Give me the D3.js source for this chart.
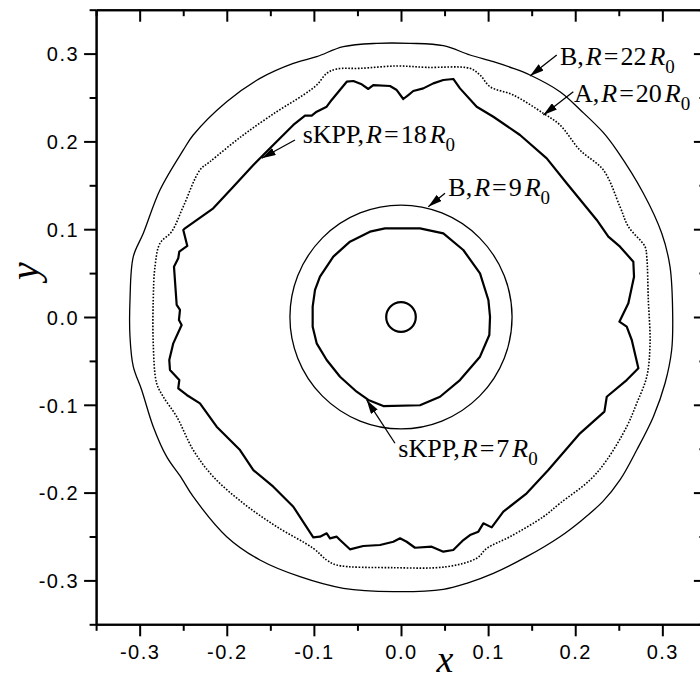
<!DOCTYPE html>
<html>
<head>
<meta charset="utf-8">
<script src="https://d3js.org/d3.v7.min.js"></script>
<style>
  body { margin: 0; background: #fff; }
  svg { display: block; }
</style>
</head>
<body>
<div id="chart"></div>
<script>
var w = 700, h = 681;

// fronts, clockwise, in data units
var outerB22 = [[-0.2385,0.2073],[-0.2001,0.2452],[-0.1619,0.2718],[-0.1236,0.2889],[-0.0968,0.2965],[-0.0662,0.3079],
  [-0.0279,0.3117],[0.0103,0.3117],[0.0486,0.309],[0.0792,0.2984],[0.106,0.2908],[0.1289,0.2832],[0.148,0.2756],
  [0.1825,0.2566],[0.2062,0.2355],[0.2318,0.2105],[0.2476,0.19],[0.2782,0.1409],[0.2993,0.0953],[0.3088,0.0573],
  [0.3119,0.0003],[0.3107,-0.0376],[0.3031,-0.0755],[0.2897,-0.1135],[0.2706,-0.1515],[0.2514,-0.1856],[0.2318,-0.21],
  [0.2062,-0.2325],[0.1825,-0.2502],[0.1443,-0.273],[0.106,-0.292],[0.0754,-0.3033],[0.0486,-0.3102],[-0.0088,-0.3128],
  [-0.0662,-0.309],[-0.116,-0.2958],[-0.1619,-0.2768],[-0.2001,-0.2502],[-0.2385,-0.2047],[-0.2518,-0.1837],
  [-0.269,-0.1591],[-0.2844,-0.1249],[-0.2977,-0.0831],[-0.3073,-0.0566],[-0.3111,-0.0224],[-0.3111,0.0194],
  [-0.3073,0.0687],[-0.2958,0.0953],[-0.2767,0.1446],[-0.25,0.19]];

var frontA20 = [[-0.2308,0.1674],[-0.2193,0.1769],[-0.181,0.2073],[-0.1427,0.2338],[-0.1122,0.2528],[-0.0968,0.2642],
  [-0.0853,0.2775],[-0.0738,0.2825],[-0.0471,0.2832],[-0.0049,0.2859],[0.0295,0.2843],[0.0792,0.2832],[0.0907,0.2756],
  [0.1022,0.2623],[0.1289,0.2528],[0.1634,0.232],[0.1825,0.2187],[0.2055,0.19],[0.2323,0.1674],[0.2514,0.1256],
  [0.261,0.1029],[0.2801,0.0801],[0.2821,0.0687],[0.2839,0.0194],[0.2859,-0.03],[0.2821,-0.068],[0.2706,-0.0983],
  [0.2591,-0.1249],[0.2362,-0.1629],[0.217,-0.1856],[0.1825,-0.2122],[0.1634,-0.2275],[0.1251,-0.2502],[0.0984,-0.2635],
  [0.0869,-0.2748],[0.0525,-0.2844],[-0.0088,-0.2855],[-0.0738,-0.2825],[-0.0853,-0.2768],[-0.1007,-0.2635],
  [-0.1427,-0.2388],[-0.181,-0.2122],[-0.2155,-0.1819],[-0.2385,-0.1515],[-0.2575,-0.1135],[-0.2729,-0.0908],
  [-0.2805,-0.0755],[-0.2844,-0.03],[-0.2844,0.0194],[-0.2824,0.0573],[-0.2767,0.0839],[-0.2633,0.0972],[-0.25,0.1256]];

var sKPP18 = [[-0.1695,0.1731],[-0.1504,0.1921],[-0.1236,0.2187],[-0.1102,0.2293],[-0.1025,0.2293],[-0.0968,0.2338],
  [-0.0853,0.2395],[-0.0796,0.2472],[-0.0623,0.268],[-0.0547,0.2688],[-0.0451,0.265],[-0.0375,0.2597],[-0.0318,0.2642],
  [-0.0126,0.2631],[-0.0049,0.2585],[0.0026,0.2483],[0.0084,0.2528],[0.0141,0.2574],[0.0256,0.2604],[0.0371,0.2661],
  [0.0486,0.2699],[0.06,0.2711],[0.0677,0.2604],[0.0869,0.2395],[0.106,0.2281],[0.1366,0.2073],[0.1673,0.1807],
  [0.1902,0.1523],[0.2247,0.1105],[0.238,0.0915],[0.2514,0.0801],[0.2667,0.063],[0.2675,0.0459],[0.261,0.0156],
  [0.2507,-0.0053],[0.2591,-0.011],[0.2649,-0.0262],[0.2725,-0.0584],[0.2591,-0.0718],[0.2362,-0.0908],[0.2335,-0.1078],
  [0.2055,-0.1325],[0.1691,-0.1743],[0.1443,-0.2008],[0.1175,-0.2217],[0.1041,-0.2396],[0.0945,-0.235],[0.0888,-0.2445],
  [0.0792,-0.2483],[0.0716,-0.254],[0.06,-0.2654],[0.0486,-0.2673],[0.0352,-0.2616],[0.0161,-0.2628],[0.0065,-0.256],
  [-0.0011,-0.2521],[-0.0088,-0.256],[-0.0241,-0.2597],[-0.0433,-0.2608],[-0.0586,-0.2646],[-0.07,-0.254],[-0.0738,-0.2502],
  [-0.0815,-0.2521],[-0.0853,-0.2464],[-0.093,-0.2502],[-0.1007,-0.2509],[-0.1236,-0.2161],[-0.1466,-0.1933],
  [-0.1695,-0.1743],[-0.1848,-0.1515],[-0.2116,-0.1249],[-0.2308,-0.0983],[-0.246,-0.0888],[-0.2557,-0.0812],
  [-0.2545,-0.0718],[-0.2652,-0.0604],[-0.266,-0.049],[-0.2614,-0.03],[-0.2518,-0.0091],[-0.2549,-0.0034],[-0.2537,0.008],
  [-0.2575,0.0137],[-0.2606,0.0573],[-0.2557,0.0668],[-0.2545,0.0744],[-0.2453,0.0809],[-0.2499,0.0991],[-0.248,0.101],
  [-0.2155,0.1238],[-0.1925,0.1484]];

var sKPP7 = [[-0.0184,0.101],[0.0218,0.101],[0.0486,0.0953],[0.0715,0.0763],[0.0907,0.0497],[0.1003,0.0194],
  [0.1022,0.0003],[0.1014,-0.0205],[0.0907,-0.0452],[0.0677,-0.0718],[0.0448,-0.0908],[0.0218,-0.1005],[-0.0203,-0.1014],
  [-0.0375,-0.0945],[-0.0509,-0.0851],[-0.07,-0.068],[-0.0853,-0.049],[-0.0968,-0.03],[-0.1014,-0.011],[-0.1014,0.0118],
  [-0.0987,0.0308],[-0.093,0.0459],[-0.0777,0.0687],[-0.0586,0.0858],[-0.0356,0.0972]];

var circleB9 = 0.1275;     // radius
var circleStart = 0.017;   // initial radius R0

var ticksMajor = [-0.3,-0.2,-0.1,0.0,0.1,0.2,0.3];
var ticksMinor = [-0.35,-0.25,-0.15,-0.05,0.05,0.15,0.25,0.35];

// labels: [prefix, R value], text position and arrow from/to (data units)
var notes = [
  {pre:"B,", val:"22", at:[0.1825,0.287],  from:[0.1788,0.2984],  to:[0.1481,0.2745]},
  {pre:"A,", val:"20", at:[0.1986,0.2452], from:[0.1978,0.2566],  to:[0.1634,0.2301]},
  {pre:"sKPP,", val:"18", at:[-0.1129,0.1978], from:[-0.1217,0.2016], to:[-0.1599,0.1808]},
  {pre:"B,", val:"9", at:[0.0543,0.1378],  from:[0.0505,0.1409],  to:[0.0313,0.1256]},
  {pre:"sKPP,", val:"7", at:[-0.0031,-0.1595], from:[-0.0069,-0.1438], to:[-0.0394,-0.0945]}
];

var x = d3.scaleLinear().domain([-0.35,0.35]).range([96.1,705.9]);
var y = d3.scaleLinear().domain([-0.35,0.35]).range([624.3,9.7]);

var svg = d3.select("#chart").append("svg")
    .attr("width", w)
    .attr("height", h)

svg.append("defs").append("marker")
    .attr("id", "head")
    .attr("viewBox", "0 0 14 8")
    .attr("refX", 14).attr("refY", 4)
    .attr("markerWidth", 14).attr("markerHeight", 8)
    .attr("markerUnits", "userSpaceOnUse")
    .attr("orient", "auto")
  .append("path")
    .attr("d", "M0,0L14,4L0,8Z")
    .attr("fill", "#000")

var smooth = d3.line().x(function(d){ return x(d[0]); }).y(function(d){ return y(d[1]); })
    .curve(d3.curveCatmullRomClosed);
var rough = d3.line().x(function(d){ return x(d[0]); }).y(function(d){ return y(d[1]); })
    .curve(d3.curveLinearClosed);

svg.append("path").attr("d", smooth(outerB22))
    .attr("fill", "none").attr("stroke", "#000").attr("stroke-width", 1.3)
svg.append("path").attr("d", smooth(frontA20))
    .attr("fill", "none").attr("stroke", "#000").attr("stroke-width", 1.6)
    .attr("stroke-dasharray", "1.6,1.6")
svg.append("path").attr("d", rough(sKPP18))
    .attr("fill", "none").attr("stroke", "#000").attr("stroke-width", 2.2).attr("stroke-linejoin", "round")
svg.append("path").attr("d", rough(sKPP7))
    .attr("fill", "none").attr("stroke", "#000").attr("stroke-width", 2.2).attr("stroke-linejoin", "round")

svg.append("ellipse")
    .attr("cx", x(0)).attr("cy", y(0))
    .attr("rx", x(circleB9) - x(0)).attr("ry", y(0) - y(circleB9))
    .attr("fill", "none").attr("stroke", "#000").attr("stroke-width", 1.3)
svg.append("ellipse")
    .attr("cx", x(0)).attr("cy", y(0))
    .attr("rx", x(circleStart) - x(0)).attr("ry", y(0) - y(circleStart))
    .attr("fill", "none").attr("stroke", "#000").attr("stroke-width", 2.2)

// annotations
notes.forEach(function(n){
    svg.append("line")
        .attr("x1", x(n.from[0])).attr("y1", y(n.from[1]))
        .attr("x2", x(n.to[0])).attr("y2", y(n.to[1]))
        .attr("stroke", "#000").attr("stroke-width", 1.3)
        .attr("marker-end", "url(#head)")
    var t = svg.append("text")
        .attr("x", x(n.at[0])).attr("y", y(n.at[1]))
        .attr("font-family", "'Liberation Serif','Times New Roman',serif")
        .attr("font-size", 26)
    t.append("tspan").text(n.pre)
    t.append("tspan").attr("dx", 2).attr("font-style", "italic").text("R")
    t.append("tspan").attr("dx", 2).text("=")
    t.append("tspan").attr("dx", 2).text(n.val)
    t.append("tspan").attr("dx", 3).attr("font-style", "italic").text("R")
    t.append("tspan").attr("font-size", 19).attr("dy", 8).text("0")
})

// axes frame
var fmt = function(d){ return d3.format(".1f")(d).replace("\u2212", "-"); };
var gx = svg.append("g").attr("transform", "translate(0," + y(-0.35) + ")")
    .call(d3.axisBottom(x).tickValues(ticksMajor).tickSize(12).tickSizeOuter(0).tickFormat(fmt))
svg.append("g").attr("transform", "translate(0," + y(-0.35) + ")")
    .call(d3.axisBottom(x).tickValues(ticksMinor).tickSize(6.5).tickSizeOuter(0).tickFormat(""))
var gy = svg.append("g").attr("transform", "translate(" + x(-0.35) + ",0)")
    .call(d3.axisLeft(y).tickValues(ticksMajor).tickSize(12).tickSizeOuter(0).tickFormat(fmt))
svg.append("g").attr("transform", "translate(" + x(-0.35) + ",0)")
    .call(d3.axisLeft(y).tickValues(ticksMinor).tickSize(6.5).tickSizeOuter(0).tickFormat(""))
// mirror axes, ticks inward
svg.append("g").attr("transform", "translate(0," + y(0.35) + ")")
    .call(d3.axisBottom(x).tickValues(ticksMajor).tickSize(12).tickSizeOuter(0).tickFormat(""))
svg.append("g").attr("transform", "translate(0," + y(0.35) + ")")
    .call(d3.axisBottom(x).tickValues(ticksMinor).tickSize(6.5).tickSizeOuter(0).tickFormat(""))
svg.append("g").attr("transform", "translate(" + x(0.35) + ",0)")
    .call(d3.axisLeft(y).tickValues(ticksMajor).tickSize(12).tickSizeOuter(0).tickFormat(""))
svg.append("g").attr("transform", "translate(" + x(0.35) + ",0)")
    .call(d3.axisLeft(y).tickValues(ticksMinor).tickSize(6.5).tickSizeOuter(0).tickFormat(""))

svg.selectAll(".domain").attr("stroke", "#000").attr("stroke-width", 2)
svg.selectAll(".tick line").attr("stroke", "#000").attr("stroke-width", 2)

gx.selectAll(".tick text")
    .attr("font-family", "'Liberation Sans',Arial,sans-serif").attr("font-size", 20)
    .attr("letter-spacing", 1.5).attr("fill", "#000")
    .attr("y", 21).attr("dy", "0.71em")
gy.selectAll(".tick text")
    .attr("font-family", "'Liberation Sans',Arial,sans-serif").attr("font-size", 20)
    .attr("letter-spacing", 1.5).attr("fill", "#000")
    .attr("x", -17).attr("dy", "0.36em")

// axis titles
svg.append("text")
    .attr("x", 445).attr("y", 672)
    .attr("text-anchor", "middle")
    .attr("font-family", "'Liberation Serif','Times New Roman',serif")
    .attr("font-style", "italic").attr("font-size", 38)
    .text("x")
svg.append("text")
    .attr("transform", "translate(38,271) rotate(-90)")
    .attr("text-anchor", "middle")
    .attr("font-family", "'Liberation Serif','Times New Roman',serif")
    .attr("font-style", "italic").attr("font-size", 40)
    .text("y")
</script>
</body>
</html>
